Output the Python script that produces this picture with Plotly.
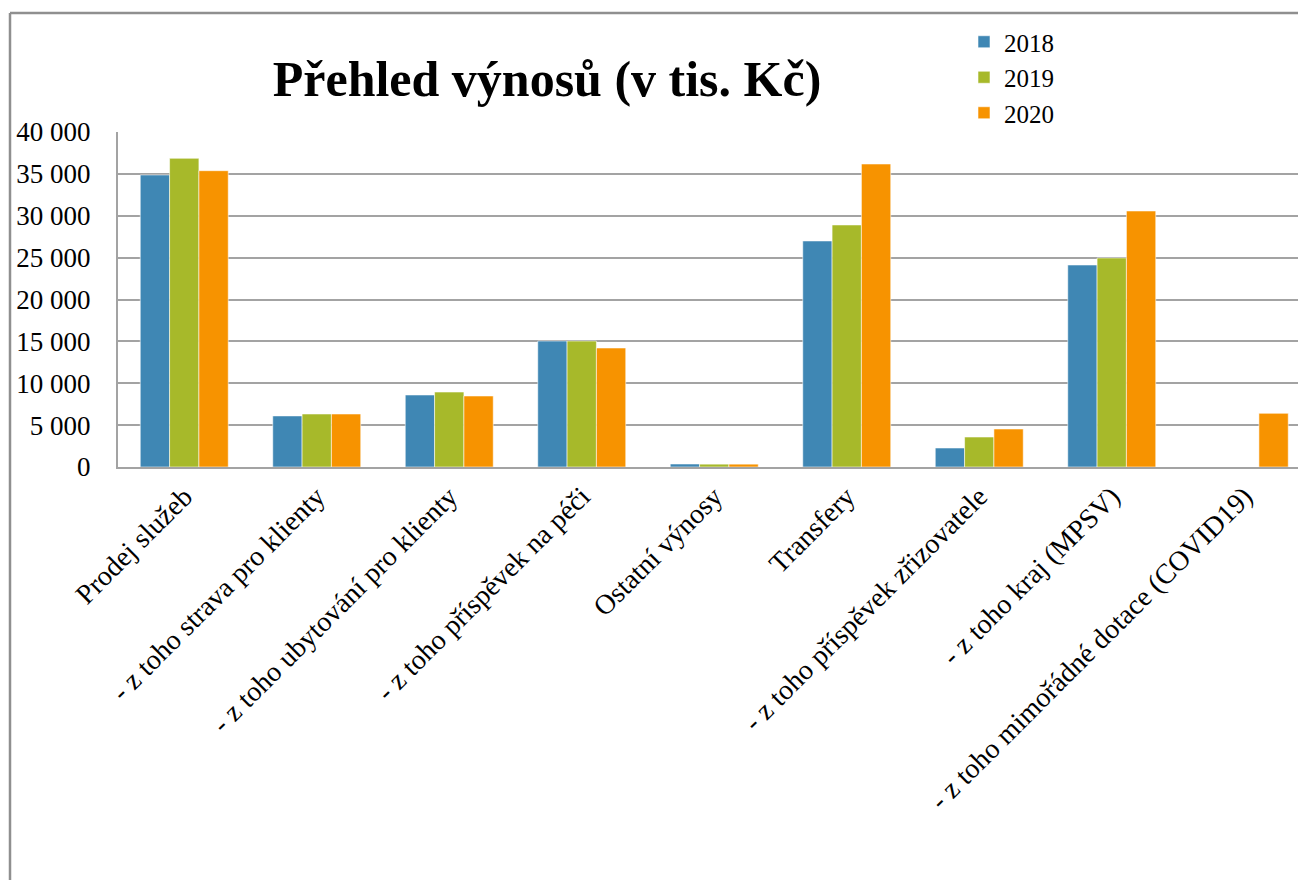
import plotly.graph_objects as go

# Revenue overview (thousands CZK)
categories = [
    "Prodej služeb",
    "- z toho strava pro klienty",
    "- z toho ubytování pro klienty",
    "- z toho příspěvek na péči",
    "Ostatní výnosy",
    "Transfery",
    "- z toho příspěvek zřizovatele",
    "- z toho kraj (MPSV)",
    "- z toho mimořádné dotace (COVID19)",
]
values_2018 = [34870, 6100, 8600, 15040, 360, 26990, 2270, 24120, 0]
values_2019 = [36860, 6330, 8950, 15040, 340, 28900, 3580, 24960, 0]
values_2020 = [35380, 6330, 8480, 14210, 340, 36180, 4540, 30570, 6410]
years = ["2018", "2019", "2020"]
colors = ["#3f87b4", "#a7b92a", "#f79300"]

W, H = 1298, 880
L, R, T, B = 118, 0, 132, 413
plot_w = W - L - R
plot_h = H - T - B


def px_x(px):
    return (px - L) / plot_w


def px_y(py):
    return (H - B - py) / plot_h


fig = go.Figure()
for name, vals, col in zip(years, [values_2018, values_2019, values_2020], colors):
    fig.add_trace(go.Bar(
        x=categories, y=vals, name=name,
        marker=dict(color=col, line=dict(color="rgba(255,255,255,0.55)", width=1)),
    ))

serif = "Liberation Serif"
grid = "#a3a3a3"

fig.update_layout(
    width=W, height=H,
    margin=dict(l=L, r=R, t=T, b=B, autoexpand=False),
    paper_bgcolor="white", plot_bgcolor="white",
    barmode="group", bargap=0.336, bargroupgap=0,
    separators=", ",
    font=dict(family=serif, color="black", size=26),
    showlegend=True,
    legend=dict(
        x=px_x(964), y=px_y(19), xanchor="left", yanchor="top",
        font=dict(family=serif, size=25), bgcolor="rgba(0,0,0,0)",
        tracegroupgap=0, itemwidth=30,
    ),
    title=dict(
        text="<b>Přehled výnosů (v tis. Kč)</b>",
        x=px_x(547), xref="paper", xanchor="center",
        y=1 - 78 / H, yref="container", yanchor="middle",
        font=dict(family=serif, size=50, color="black"),
    ),
    shapes=[
        dict(type="line", xref="paper", yref="paper",
             x0=px_x(10), x1=px_x(W + 5), y0=px_y(13), y1=px_y(13),
             line=dict(color="#8f8f8f", width=2.5)),
        dict(type="line", xref="paper", yref="paper",
             x0=px_x(10), x1=px_x(10), y0=px_y(13), y1=px_y(H + 5),
             line=dict(color="#8f8f8f", width=2.5)),
    ],
)

fig.update_xaxes(
    range=[-0.5, -0.5 + plot_w / 132.5],
    tickangle=-45, showgrid=False, showline=True, linecolor=grid, linewidth=2,
    ticks="", tickfont=dict(family=serif, size=28),
)
fig.update_yaxes(
    range=[0, 40000], dtick=5000, tickformat=",d",
    showgrid=True, gridcolor=grid, gridwidth=2,
    showline=True, linecolor=grid, linewidth=2, mirror=False,
    zeroline=False, ticks="", ticklabelstandoff=20,
    tickfont=dict(family=serif, size=27),
)

fig.write_html("out.html")
